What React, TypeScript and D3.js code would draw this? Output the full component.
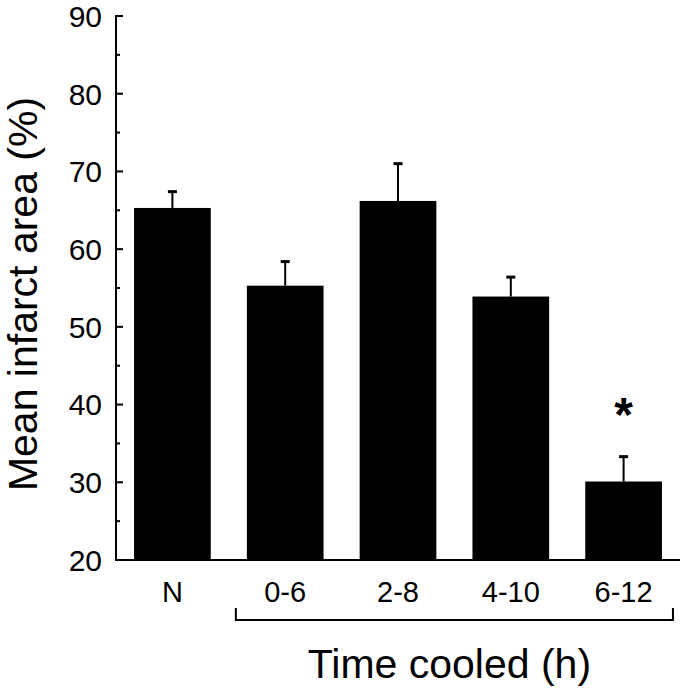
import React, { useEffect } from "react";
import * as d3 from "d3";

const categories = ["N", "0-6", "2-8", "4-10", "6-12"];
const means = [65.3, 55.3, 66.2, 53.9, 30.1];
const errorTops = [67.4, 58.4, 71.0, 56.4, 33.3];
const significant = [false, false, false, false, true];
const yTicks = [20, 30, 40, 50, 60, 70, 80, 90];
const yMinorTicks = [25, 35, 45, 55, 65, 75, 85];
const bracketGroup = ["0-6", "2-8", "4-10", "6-12"];

const W = 685;
const H = 689;
const FONT = "'Liberation Sans', Arial, Helvetica, sans-serif";

export default function App() {
  useEffect(() => {
    document.body.style.margin = "0";
  }, []);

  const x0 = 116;
  const x1 = 680;
  const yTop = 16;
  const yBase = 560;

  const x = d3
    .scaleBand<string>()
    .domain(categories)
    .range([x0, x1])
    .paddingInner(0.32)
    .paddingOuter(0.16);
  const y = d3.scaleLinear().domain([20, 90]).range([yBase, yTop]);
  const bw = x.bandwidth();

  const bStart = x(bracketGroup[0])! - 11;
  const bEnd = x(bracketGroup[bracketGroup.length - 1])! + bw + 11;

  return (
    <svg
      width={W}
      height={H}
      style={{ position: "absolute", left: 0, top: 0, background: "#fff" }}
      fontFamily={FONT}
    >
      <rect x={0} y={0} width={W} height={H} fill="#fff" />
      {categories.map((c, i) => (
        <rect
          key={c}
          x={x(c)}
          y={y(means[i])}
          width={bw}
          height={y(20) - y(means[i])}
          fill="#000"
        />
      ))}
      {categories.map((c, i) => {
        const cx = x(c)! + bw / 2;
        return (
          <g key={"e" + c} stroke="#000">
            <line x1={cx} x2={cx} y1={y(means[i])} y2={y(errorTops[i])} strokeWidth={2} />
            <line x1={cx - 4.5} x2={cx + 4.5} y1={y(errorTops[i])} y2={y(errorTops[i])} strokeWidth={3} />
          </g>
        );
      })}
      {categories.map((c, i) =>
        significant[i] ? (
          <text
            key={"s" + c}
            x={x(c)! + bw / 2}
            y={y(errorTops[i]) - 26}
            textAnchor="middle"
            fontSize={48}
            fontWeight="bold"
          >
            *
          </text>
        ) : null
      )}
      <line x1={x0} x2={x0} y1={yTop - 1} y2={yBase + 1} stroke="#000" strokeWidth={2} />
      {yTicks.map((t) => (
        <g key={"t" + t}>
          <line x1={x0} x2={x0 + 7} y1={y(t)} y2={y(t)} stroke="#000" strokeWidth={2} />
          <text x={102} y={y(t)} dy="0.36em" textAnchor="end" fontSize={30}>
            {t}
          </text>
        </g>
      ))}
      {yMinorTicks.map((t) => (
        <line key={"m" + t} x1={x0} x2={x0 + 4} y1={y(t)} y2={y(t)} stroke="#000" strokeWidth={2} />
      ))}
      <line x1={x0} x2={x1} y1={yBase} y2={yBase} stroke="#000" strokeWidth={2} />
      {categories.map((c) => (
        <text key={"x" + c} x={x(c)! + bw / 2} y={602} textAnchor="middle" fontSize={29}>
          {c}
        </text>
      ))}
      <path
        d={`M${bStart},608 V620 H${bEnd} V608`}
        fill="none"
        stroke="#000"
        strokeWidth={2}
      />
      <text x={(bStart + bEnd) / 2 - 5} y={678} textAnchor="middle" fontSize={41}>
        Time cooled (h)
      </text>
      <text
        transform={`translate(37, ${(yTop + yBase) / 2 + 6}) rotate(-90)`}
        textAnchor="middle"
        fontSize={41}
      >
        Mean infarct area (%)
      </text>
    </svg>
  );
}
